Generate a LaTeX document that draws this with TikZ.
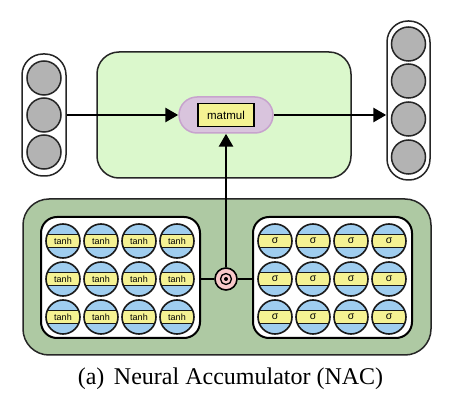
\documentclass[tikz,border=0pt]{standalone}
\usepackage{fontspec}
\setmainfont{Liberation Serif}
\setsansfont{Liberation Sans}
\usetikzlibrary{arrows.meta}
\definecolor{lgreen}{HTML}{DBF8CC}
\definecolor{dgreen}{HTML}{AEC9A3}
\definecolor{purp}{HTML}{D9C4DD}
\definecolor{purpb}{HTML}{C7A3CD}
\definecolor{ylw}{HTML}{F5F293}
\definecolor{blu}{HTML}{9FCDEF}
\definecolor{gry}{HTML}{B3B3B3}
\definecolor{pnk}{HTML}{F9C8CA}
\begin{document}
\begin{tikzpicture}[x=1pt,y=-1pt,
  neuron/.style={circle, draw=black!85, line width=1.5pt, fill=gry, minimum size=34pt, inner sep=0pt},
  bandneuron/.style={circle, draw=black!90, line width=1.6pt, fill=blu, minimum size=34pt, inner sep=0pt,
     font=\sffamily\fontsize{9}{9}\selectfont,
     path picture={\draw[line width=1.3pt, fill=ylw] ([xshift=-3pt,yshift=6.5pt]path picture bounding box.west) rectangle ([xshift=3pt,yshift=-6.5pt]path picture bounding box.east);}},
  capsule/.style={draw=black!85, line width=1.5pt, fill=white, rounded corners=21pt, inner sep=0pt},
  conn/.style={line width=2.8pt, -{Triangle[length=13pt,width=14pt]}},
  plainconn/.style={line width=2.8pt}
]
\useasboundingbox (0,0) rectangle (453,406);
% top green box
\node[draw=black!85, line width=1.5pt, fill=lgreen, rounded corners=22pt, minimum width=254pt, minimum height=126pt, inner sep=0pt] (lin) at (224,115) {};
% input capsule
\node[capsule, minimum width=44pt, minimum height=122pt] (inp) at (44,115) {};
\foreach \i/\y in {1/78,2/115,3/152} \node[neuron] (in\i) at (44,\y) {};
% output capsule
\node[capsule, minimum width=43pt, minimum height=159pt] (outp) at (408.5,100.5) {};
\foreach \i/\y in {1/44,2/81,3/119,4/157} \node[neuron] (out\i) at (408.5,\y) {};
% matmul
\node[draw=purpb, line width=1.5pt, fill=purp, rounded corners=18pt, minimum width=94pt, minimum height=36pt, inner sep=0pt] (mm) at (226,115) {};
\node[draw=black, line width=1.3pt, fill=ylw, minimum width=56pt, minimum height=23pt, inner sep=0pt, font=\sffamily\fontsize{11.5}{12}\selectfont] (mmtext) at (226,115) {matmul};
% bottom dark green box
\node[draw=black!85, line width=1.5pt, fill=dgreen, rounded corners=26pt, minimum width=408pt, minimum height=156pt, inner sep=0pt] (gate) at (227,277) {};
\node[draw=black, line width=2pt, fill=white, rounded corners=16pt, minimum width=159pt, minimum height=121pt, inner sep=0pt] (wbox) at (120.5,277.5) {};
\node[draw=black, line width=2pt, fill=white, rounded corners=16pt, minimum width=159pt, minimum height=121pt, inner sep=0pt] (mbox) at (332.5,277.5) {};
\foreach \r/\y in {1/241,2/279,3/317}{
  \foreach \c/\x in {1/63,2/101,3/139,4/177}
    \node[bandneuron] (t\r\c) at (\x,\y) {tanh};
  \foreach \c/\x in {1/275,2/313,3/351,4/389}
    \node[bandneuron, font=\sffamily\fontsize{10.5}{10}\selectfont] (s\r\c) at (\x,\y) {σ};
}
% odot
\node[circle, draw=black, line width=1.6pt, fill=pnk, minimum size=22pt, inner sep=0pt] (od) at (226,279) {};
\draw[line width=1.3pt] (od.center) circle (5.5pt);
\fill (od.center) circle (2pt);
% connectors
\draw[plainconn] (wbox.east |- od) -- (od.west);
\draw[plainconn] (od.east) -- (mbox.west |- od);
\draw[conn] (od.north) -- (mm.south);
\draw[conn] (inp.east |- mm) -- (mm.west);
\draw[conn] (mm.east) -- (outp.west |- mm);
% caption
\node[font=\fontsize{24}{26}\selectfont, inner sep=0pt] (cap) at (230.5,379) {(a)\hspace{0.4em}Neural Accumulator (NAC)};
\end{tikzpicture}
\end{document}
